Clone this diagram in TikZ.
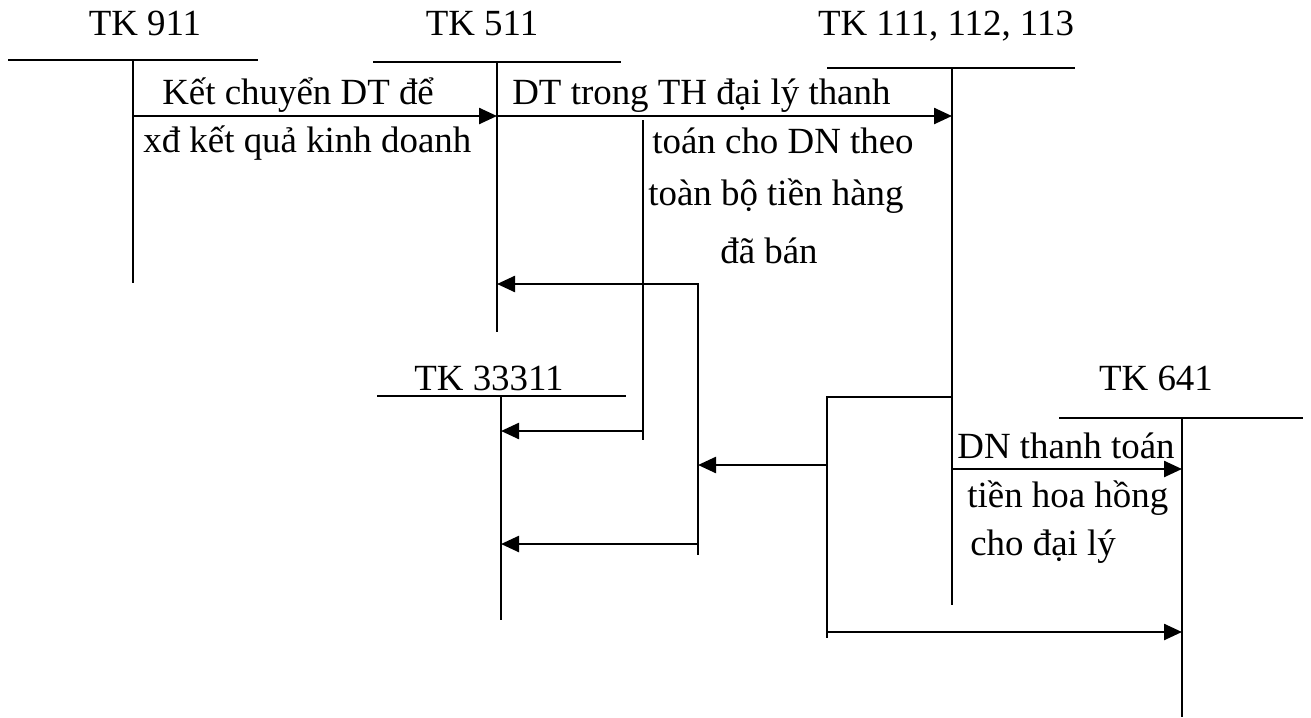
\documentclass[tikz,border=0pt]{standalone}
\usepackage{fontspec}
\setmainfont{Liberation Serif}
\usetikzlibrary{arrows.meta}

\begin{document}
\begin{tikzpicture}[
  x=0.02cm, y=-0.02cm,
  acct/.style={inner sep=0pt, anchor=base, font=\fontsize{21}{25}\selectfont},
  lbl/.style={inner sep=0pt, anchor=base west, font=\fontsize{21}{25}\selectfont},
  tline/.style={line width=1.1pt},
  flow/.style={line width=1.4pt, -{Triangle[length=0.36cm,width=0.32cm]}}
]
\useasboundingbox (0,0) rectangle (1311,717);

% T accounts
\node[acct] (t911) at (145,35) {TK 911};
\node[acct] (t511) at (482,35) {TK 511};
\node[acct] (t111) at (946,35) {TK 111, 112, 113};
\node[acct] (t333) at (489,390) {TK 33311};
\node[acct] (t641) at (1156,390) {TK 641};
\coordinate (k911) at (133,60);
\coordinate (k511) at (497,62);
\coordinate (k111) at (952,68);
\coordinate (k333) at (501,396);
\coordinate (k641) at (1182,418);
\draw[tline] (8,60) -- (258,60) (k911) -- (133,283);
\draw[tline] (373,62) -- (621,62) (k511) -- (497,332);
\draw[tline] (827,68) -- (1075,68) (k111) -- (952,605);
\draw[tline] (377,396) -- (626,396) (k333) -- (501,620);
\draw[tline] (1059,418) -- (1303,418) (k641) -- (1182,717);

% branch lines
\coordinate (b1) at (643,120);
\coordinate (b2) at (698,283);
\coordinate (b3) at (827,397);
\draw[tline] (b1) -- (643,440);
\draw[tline] (b2) -- (698,555);
\draw[tline] (k111 |- b3) -- (b3) -- (827,638);

% rows
\coordinate (r1) at (0,116);
\coordinate (r2) at (0,284);
\coordinate (r3) at (0,431);
\coordinate (r4) at (0,465);
\coordinate (r5) at (0,469);
\coordinate (r6) at (0,544);
\coordinate (r7) at (0,632);

\draw[flow] (k911 |- r1) -- (k511 |- r1);
\draw[flow] (k511 |- r1) -- (k111 |- r1);
\draw[flow] (b2 |- r2) -- (k511 |- r2);
\draw[flow] (b1 |- r3) -- (k333 |- r3);
\draw[flow] (b3 |- r4) -- (b2 |- r4);
\draw[flow] (k111 |- r5) -- (k641 |- r5);
\draw[flow] (b2 |- r6) -- (k333 |- r6);
\draw[flow] (b3 |- r7) -- (k641 |- r7);

% labels
\node[lbl] (l1a) at (162,104) {Kết chuyển DT để};
\node[lbl] (l1b) at (143,152) {xđ kết quả kinh doanh};
\node[lbl] (l2a) at (512,104) {DT trong TH đại lý thanh};
\node[lbl] (l2b) at (652,153) {toán cho DN theo};
\node[lbl] (l2c) at (648,205) {toàn bộ tiền hàng};
\node[lbl] (l2d) at (720,263) {đã bán};
\node[lbl] (l3a) at (957,458) {DN thanh toán};
\node[lbl] (l3b) at (967,507) {tiền hoa hồng};
\node[lbl] (l3c) at (970,555) {cho đại lý};
\end{tikzpicture}
\end{document}
